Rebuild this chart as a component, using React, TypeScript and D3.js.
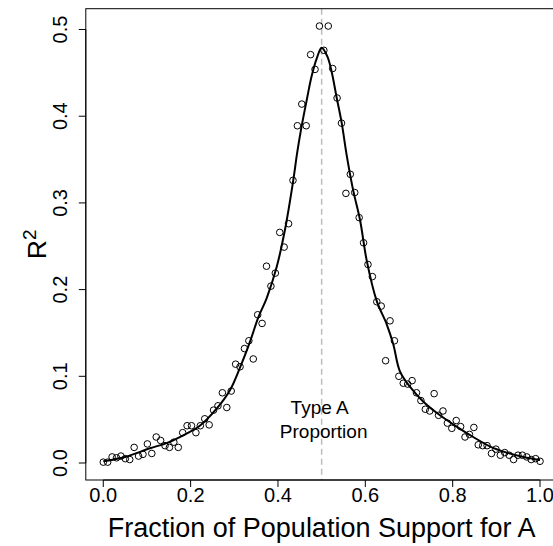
import React from "react";
import * as d3 from "d3";

// Observed R^2 at each fraction of population support (x = i / 99)
const supportValues: number[] = d3.range(100).map((i) => i / 99);
const rSquared: number[] = [
  0.001, 0.001, 0.007, 0.006, 0.008, 0.005, 0.004, 0.018, 0.008, 0.010,
  0.022, 0.011, 0.030, 0.026, 0.020, 0.018, 0.024, 0.018, 0.035, 0.043,
  0.043, 0.035, 0.043, 0.051, 0.044, 0.061, 0.066, 0.081, 0.064, 0.083,
  0.114, 0.111, 0.132, 0.141, 0.120, 0.171, 0.161, 0.227, 0.204, 0.219,
  0.266, 0.249, 0.276, 0.326, 0.389, 0.414, 0.389, 0.471, 0.454, 0.504,
  0.476, 0.504, 0.455, 0.421, 0.392, 0.311, 0.333, 0.312, 0.283, 0.254,
  0.229, 0.215, 0.186, 0.181, 0.118, 0.164, 0.141, 0.100, 0.092, 0.091,
  0.095, 0.081, 0.072, 0.062, 0.060, 0.080, 0.055, 0.060, 0.046, 0.040,
  0.049, 0.042, 0.030, 0.033, 0.041, 0.021, 0.020, 0.020, 0.011, 0.016,
  0.009, 0.012, 0.009, 0.004, 0.009, 0.009, 0.007, 0.004, 0.005, 0.002,
];

// Smoothed fit through the observations
const fitX: number[] = [
  0, 0.05, 0.107, 0.145, 0.183, 0.221, 0.26, 0.29, 0.313, 0.336, 0.355,
  0.374, 0.397, 0.416, 0.435, 0.444, 0.454, 0.466, 0.477, 0.489, 0.5, 0.513,
  0.523, 0.534, 0.546, 0.557, 0.572, 0.588, 0.603, 0.626, 0.649, 0.664,
  0.679, 0.702, 0.733, 0.771, 0.809, 0.847, 0.886, 0.924, 0.962, 1.0,
];
const fitY: number[] = [
  0.002, 0.007, 0.017, 0.023, 0.032, 0.043, 0.063, 0.084, 0.110, 0.140, 0.168,
  0.190, 0.226, 0.269, 0.326, 0.358, 0.388, 0.419, 0.446, 0.467, 0.479, 0.469,
  0.451, 0.4225, 0.392, 0.356, 0.315, 0.280, 0.234, 0.187, 0.160, 0.137,
  0.106, 0.088, 0.0707, 0.055, 0.042, 0.030, 0.019, 0.012, 0.007, 0.0035,
];

const xTicks: number[] = [0, 0.2, 0.4, 0.6, 0.8, 1.0];
const yTicks: number[] = [0, 0.1, 0.2, 0.3, 0.4, 0.5];
const referenceX = 0.5;
const xLabel = "Fraction of Population Support for A";
const annotationLines: string[] = ["Type A", "Proportion"];

const W = 553;
const H = 546;
const plot = { left: 85.8, right: 557.5, top: 8.7, bottom: 480 };
const FONT = "'Liberation Sans', Arial, Helvetica, sans-serif";

export default function App() {
  const x = d3.scaleLinear().domain([-0.04, 1.04]).range([plot.left, plot.right]);
  const y = d3.scaleLinear().domain([-0.0196, 0.524]).range([plot.bottom, plot.top]);

  const fitPts: [number, number][] = fitX.map((v, i) => [v, fitY[i]]);
  const line = d3
    .line<[number, number]>()
    .x((d) => x(d[0]))
    .y((d) => y(d[1]))
    .curve(d3.curveCatmullRom.alpha(0.5));

  const fmt = d3.format(".1f");

  return (
    <svg
      width={W}
      height={H}
      style={{ position: "absolute", left: 0, top: 0, background: "#fff" }}
      fontFamily={FONT}
    >
      {/* reference line at the Type A proportion */}
      <line
        x1={x(referenceX)}
        x2={x(referenceX)}
        y1={plot.top}
        y2={plot.bottom}
        stroke="#bdbdbd"
        strokeWidth={1.5}
        strokeDasharray="6,4"
      />

      {/* observations */}
      {supportValues.map((v, i) => (
        <circle
          key={i}
          cx={x(v)}
          cy={y(rSquared[i])}
          r={3.3}
          fill="none"
          stroke="#000"
          strokeWidth={1}
        />
      ))}

      {/* fitted curve */}
      <path d={line(fitPts) || ""} fill="none" stroke="#000" strokeWidth={2} />

      {/* annotation */}
      <text textAnchor="middle" fontSize={19} fill="#000">
        <tspan x={x(referenceX) - 2} y={414}>{annotationLines[0]}</tspan>
        <tspan x={x(referenceX) + 2} y={438}>{annotationLines[1]}</tspan>
      </text>

      {/* plot box */}
      <rect
        x={plot.left}
        y={plot.top}
        width={plot.right - plot.left}
        height={plot.bottom - plot.top}
        fill="none"
        stroke="#000"
        strokeWidth={1}
      />

      {/* x axis */}
      <line
        x1={x(xTicks[0])}
        x2={x(xTicks[xTicks.length - 1])}
        y1={plot.bottom}
        y2={plot.bottom}
        stroke="#000"
      />
      {xTicks.map((t) => (
        <g key={t}>
          <line x1={x(t)} x2={x(t)} y1={plot.bottom} y2={plot.bottom + 7} stroke="#000" />
          <text x={x(t)} y={502} textAnchor="middle" fontSize={20} fill="#000">
            {fmt(t)}
          </text>
        </g>
      ))}
      <text x={x(0.5)} y={537} textAnchor="middle" fontSize={27} fill="#000">
        {xLabel}
      </text>

      {/* y axis */}
      <line
        x1={plot.left}
        x2={plot.left}
        y1={y(yTicks[0])}
        y2={y(yTicks[yTicks.length - 1])}
        stroke="#000"
      />
      {yTicks.map((t) => (
        <g key={t}>
          <line x1={plot.left - 7} x2={plot.left} y1={y(t)} y2={y(t)} stroke="#000" />
          <text
            transform={`translate(67,${y(t)}) rotate(-90)`}
            textAnchor="middle"
            fontSize={20}
            fill="#000"
          >
            {fmt(t)}
          </text>
        </g>
      ))}
      <text
        transform={`translate(46,${(plot.top + plot.bottom) / 2}) rotate(-90)`}
        textAnchor="middle"
        fontSize={26.5}
        fill="#000"
      >
        R
        <tspan dy={-10} fontSize={19}>2</tspan>
      </text>
    </svg>
  );
}
